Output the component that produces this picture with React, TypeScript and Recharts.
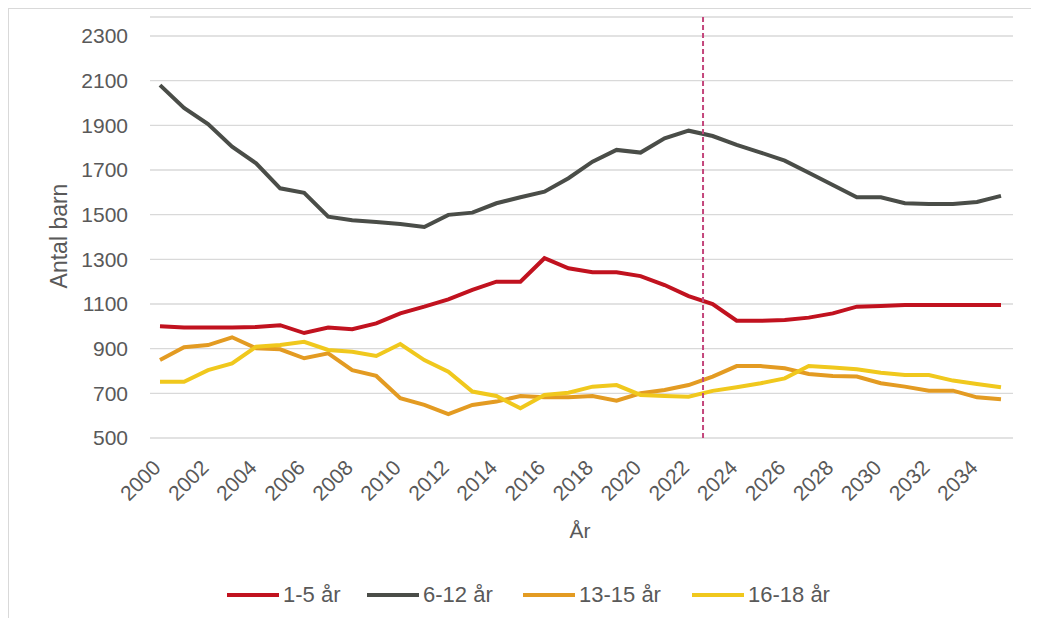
import { LineChart, Line, XAxis, YAxis, CartesianGrid, ReferenceLine, Legend, Label } from "recharts";

// Excel-style population forecast, children per age group
const FONT = '"Liberation Sans", Arial, sans-serif';
const TEXT = "#595959";
const GRID = "#d9d9d9";

const years = [
  2000, 2001, 2002, 2003, 2004, 2005, 2006, 2007, 2008, 2009, 2010, 2011,
  2012, 2013, 2014, 2015, 2016, 2017, 2018, 2019, 2020, 2021, 2022, 2023,
  2024, 2025, 2026, 2027, 2028, 2029, 2030, 2031, 2032, 2033, 2034, 2035,
];
const age1to5 = [
  1000, 995, 995, 995, 997, 1005, 970, 995, 987, 1013, 1058, 1088,
  1121, 1163, 1200, 1200, 1305, 1260, 1242, 1242, 1225, 1185, 1135, 1100,
  1025, 1025, 1028, 1039, 1058, 1088, 1091, 1096, 1096, 1096, 1096, 1096,
];
const age6to12 = [
  2080, 1978, 1906, 1804, 1730, 1618, 1598, 1491, 1475, 1467, 1458, 1445,
  1499, 1509, 1551, 1578, 1603, 1663, 1737, 1790, 1778, 1842, 1876, 1852,
  1812, 1778, 1742, 1688, 1633, 1578, 1578, 1551, 1548, 1548, 1557, 1584,
];
const age13to15 = [
  849, 906, 916, 951, 902, 897, 857, 879, 804, 778, 678, 648,
  607, 648, 663, 688, 682, 682, 688, 667, 700, 715, 737, 775,
  822, 822, 812, 787, 778, 775, 745, 730, 712, 712, 682, 673,
];
const age16to18 = [
  752, 752, 804, 834, 909, 916, 931, 894, 886, 867, 921, 849,
  797, 708, 688, 633, 693, 703, 730, 737, 693, 688, 685, 711,
  727, 745, 767, 822, 816, 808, 792, 782, 782, 757, 742, 727,
];
const xTicks = [
  2000, 2002, 2004, 2006, 2008, 2010, 2012, 2014, 2016, 2018,
  2020, 2022, 2024, 2026, 2028, 2030, 2032, 2034,
];
const yTicks = [500, 700, 900, 1100, 1300, 1500, 1700, 1900, 2100, 2300];
const forecastStart = 2022.6;

const series = [
  { key: "a", name: "1-5 år", color: "#c1121f", w: 140 },
  { key: "b", name: "6-12 år", color: "#4a4d48", w: 156 },
  { key: "c", name: "13-15 år", color: "#e39b22", w: 169 },
  { key: "d", name: "16-18 år", color: "#f0c81d", w: 150 },
];

const data = years.map((year, i) => ({
  year,
  a: age1to5[i],
  b: age6to12[i],
  c: age13to15[i],
  d: age16to18[i],
}));

function YearTick({ x, y, payload }: { x?: number; y?: number; payload?: { value: number } }) {
  return (
    <g transform={`translate(${(x ?? 0) + 2},${(y ?? 0) + 31})`}>
      <text transform="rotate(-45)" textAnchor="end" fill={TEXT} fontSize={21} fontFamily={FONT}>
        {payload?.value}
      </text>
    </g>
  );
}

function LegendContent() {
  return (
    <div style={{ display: "flex", alignItems: "center", fontFamily: FONT, fontSize: 22, color: TEXT, lineHeight: "24px" }}>
      {series.map((s) => (
        <div key={s.key} style={{ display: "flex", alignItems: "center", width: s.w }}>
          <span style={{ display: "inline-block", width: 52, height: 4, background: s.color, marginRight: 4 }} />
          <span>{s.name}</span>
        </div>
      ))}
    </div>
  );
}

export default function App() {
  return (
    <div style={{ width: 1022, height: 609, borderTop: `1px solid ${GRID}`, borderLeft: `1px solid ${GRID}`, background: "#fff" }}>
      <LineChart width={1022} height={609} data={data} margin={{ top: 8, right: 18, bottom: 140, left: 0 }}>
        <CartesianGrid horizontal vertical={false} stroke={GRID} strokeWidth={1.3} />
        <XAxis
          dataKey="year"
          type="number"
          domain={[1999.584, 2035.5]}
          ticks={xTicks}
          interval={0}
          axisLine={false}
          tickLine={false}
          tickSize={0}
          tickMargin={0}
          height={40}
          tick={<YearTick />}
        >
          <Label
            content={() => (
              <text x={571} y={529} textAnchor="middle" fill={TEXT} fontSize={21} fontFamily={FONT}>
                År
              </text>
            )}
          />
        </XAxis>
        <YAxis
          domain={[500, 2385]}
          ticks={yTicks}
          interval={0}
          width={141}
          axisLine={false}
          tickLine={false}
          tickSize={0}
          tickMargin={22}
          tick={{ fill: TEXT, fontSize: 21, fontFamily: FONT }}
        >
          <Label
            content={() => (
              <text x={58} y={227} transform="rotate(-90, 58, 227)" textAnchor="middle" fill={TEXT} fontSize={23} fontFamily={FONT}>
                Antal barn
              </text>
            )}
          />
        </YAxis>
        {series.map((s) => (
          <Line
            key={s.key}
            type="linear"
            dataKey={s.key}
            name={s.name}
            stroke={s.color}
            strokeWidth={4}
            dot={false}
            isAnimationActive={false}
          />
        ))}
        <ReferenceLine x={forecastStart} stroke="#c4467c" strokeWidth={2} strokeDasharray="5 3" />
        <Legend
          layout="horizontal"
          verticalAlign="middle"
          align="center"
          content={<LegendContent />}
          wrapperStyle={{ left: 218, top: 574, width: 700, height: 24 }}
        />
      </LineChart>
    </div>
  );
}
